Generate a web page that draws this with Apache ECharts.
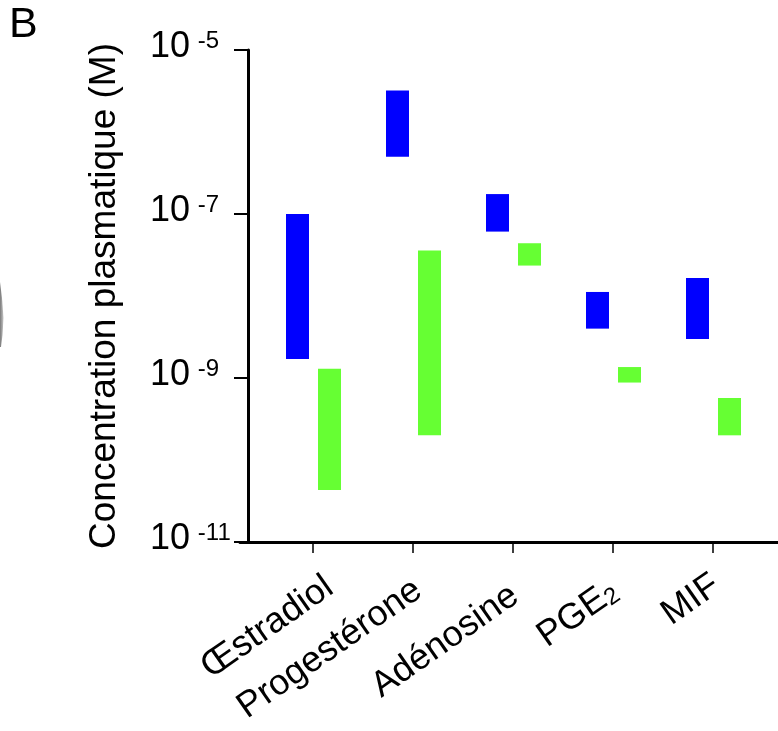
<!DOCTYPE html>
<html><head><meta charset="utf-8">
<script src="https://cdn.jsdelivr.net/npm/echarts@6/dist/echarts.min.js"></script>
<style>html,body{margin:0;padding:0;background:#fff}#c{width:778px;height:731px}</style>
</head><body><div id="c"></div>
<script>
// ---- data (plasma concentration ranges, M) ----
const categories = ['Œstradiol', 'Progestérone', 'Adénosine', 'PGE2', 'MIF'];
const blueLow   = [1.7e-9, 5.0e-7, 6.1e-8, 4.0e-9, 3.0e-9];
const blueHigh  = [1.0e-7, 3.2e-6, 1.75e-7, 1.12e-8, 1.66e-8];
const greenLow  = [4.3e-11, 2.0e-10, 2.35e-8, 8.8e-10, 2.0e-10];
const greenHigh = [1.3e-9, 3.6e-8, 4.4e-8, 1.36e-9, 5.7e-10];

const FONT = 'Liberation Sans, Arial, Helvetica, sans-serif';
const CAT_START = 0.65;   // x position of first category on the value axis
const catPos = categories.map((c, i) => i + CAT_START);
// per-label nudges (padding top, padding right) to mimic hand placement
const labelPad = [[58, 0], [50, 11], [55, 17], [48, 15], [40, 10]];

const xRich = {};
categories.forEach((c, i) => {
  const p = labelPad[i];
  if (c === 'PGE2') {
    xRich['l' + i] = { fontSize: 36, fontFamily: FONT, color: '#000', padding: [p[0], 0, 0, 0] };
    xRich['s' + i] = { fontSize: 24, fontFamily: FONT, color: '#000', verticalAlign: 'bottom', padding: [0, p[1], 0, 0] };
  } else {
    xRich['l' + i] = { fontSize: 36, fontFamily: FONT, color: '#000', padding: [p[0], p[1], 0, 0] };
  }
});

function labelFor(v) {
  const i = Math.round(v - CAT_START);
  const name = categories[i] || '';
  if (name === 'PGE2') return '{l' + i + '|PGE}{s' + i + '|2}';
  return '{l' + i + '|' + name + '}';
}

function barSeries(low, high, shift, color) {
  return {
    type: 'custom',
    data: low.map((l, i) => [i, l, high[i]]),
    encode: { x: 0, y: [1, 2] },
    renderItem: function (params, api) {
      const x = api.value(0) + CAT_START + shift;
      const top = api.coord([x, api.value(2)]);
      const bot = api.coord([x, api.value(1)]);
      const w = 23;
      return {
        type: 'rect',
        shape: { x: top[0] - w / 2, y: top[1], width: w, height: bot[1] - top[1] },
        style: { fill: color }
      };
    }
  };
}

const chart = echarts.init(document.getElementById('c'), null, { renderer: 'canvas' });
chart.setOption({
  animation: false,
  backgroundColor: '#fff',
  textStyle: { fontFamily: FONT },
  grid: { left: 240, right: 0, top: 50, bottom: 189, containLabel: false },
  xAxis: {
    type: 'value',
    min: -0.08,
    max: 5.30,
    splitLine: { show: false },
    axisLine: { show: true, onZero: false, lineStyle: { color: '#000', width: 3 } },
    axisTick: { show: true, customValues: catPos, length: 11, lineStyle: { color: '#000', width: 1.5 } },
    axisLabel: {
      customValues: catPos,
      rotate: 35,
      margin: 18,
      formatter: labelFor,
      rich: xRich
    }
  },
  yAxis: {
    type: 'log',
    logBase: 10,
    min: 1e-11,
    max: 1e-5,
    interval: 2,
    splitNumber: 3,
    splitLine: { show: false },
    axisLine: { show: true, onZero: true, lineStyle: { color: '#000', width: 3 } },
    axisTick: { show: true, length: 14, lineStyle: { color: '#000', width: 2 } },
    axisLabel: {
      margin: 90,
      align: 'left',
      formatter: function (v) {
        const e = Math.round(Math.log10(v));
        return '{b|10}{sp| }{s|' + e + '}';
      },
      rich: {
        b: { fontSize: 36, fontFamily: FONT, color: '#000', padding: [0, 0, 6, 0] },
        sp: { fontSize: 28, fontFamily: FONT, color: '#000' },
        s: { fontSize: 24, fontFamily: FONT, color: '#000', verticalAlign: 'top' }
      }
    },
    name: 'Concentration plasmatique (M)',
    nameLocation: 'middle',
    nameGap: 117,
    nameTextStyle: { fontSize: 37, fontFamily: FONT, color: '#000' }
  },
  graphic: [
    { type: 'text', left: 9, top: 4, style: { text: 'B', fontSize: 43, fontFamily: FONT, fill: '#000' } },
    { type: 'polygon', shape: { points: [[0, 282], [2, 298], [3.5, 318], [2.5, 335], [1, 347], [0, 347]] },
      style: { fill: new echarts.graphic.LinearGradient(0, 0, 1, 0, [
        { offset: 0, color: '#7a7a7a' }, { offset: 1, color: '#c8c8c8' }]) } }
  ],
  series: [
    barSeries(blueLow, blueHigh, -0.155, '#0000ff'),
    barSeries(greenLow, greenHigh, 0.165, '#66ff33')
  ]
});
</script></body></html>
